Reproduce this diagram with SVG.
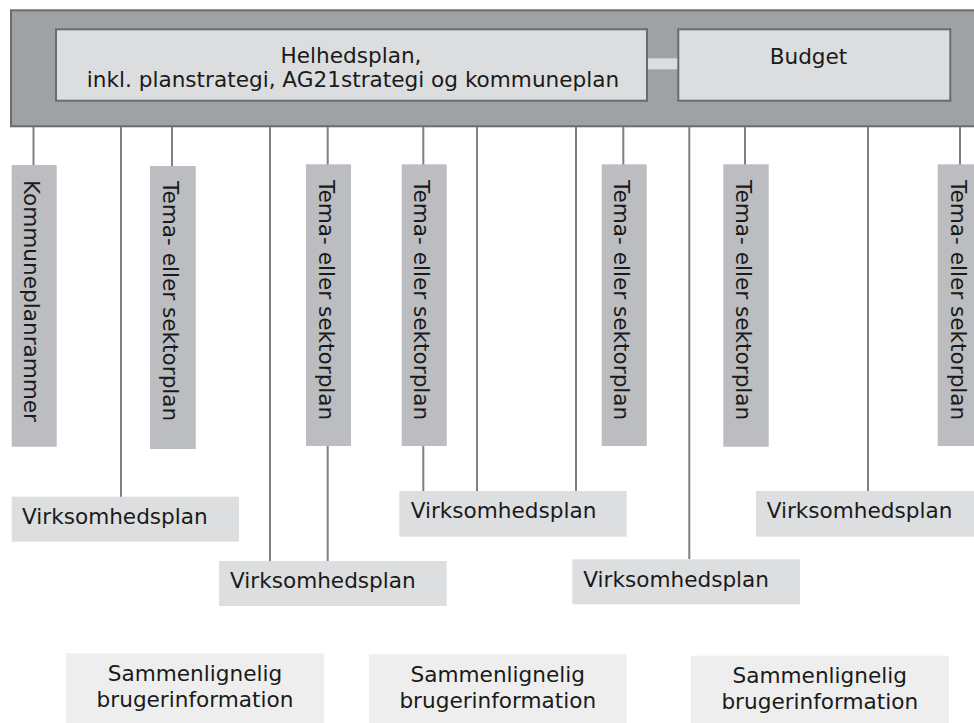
<svg xmlns="http://www.w3.org/2000/svg" width="974" height="723" viewBox="0 0 974 723">
<style>
text{font-family:"DejaVu Sans","Verdana",sans-serif;font-size:21.6px;fill:#1a1a1a}
.bar{fill:#a0a1a5;stroke:#6a6b6e;stroke-width:2}
.top{fill:#dcdddf;stroke:#6a6b6e;stroke-width:2}
.tema{fill:#bcbdc0}
.vp{fill:#dddee0}
.sam{fill:#eeeeee}
.ln{stroke:#808080;stroke-width:2;fill:none}
.mid{text-anchor:middle}
</style>
<rect width="974" height="723" fill="#ffffff"/>
<g id="header">
<rect class="bar" x="11" y="10.3" width="1000" height="116"/>
</g>
<g id="connectors">
<rect x="647" y="58.3" width="31" height="11" fill="#dcdddf"/>
<path class="ln" d="M33.5,127V165 M121,127V497 M172,127V166 M270,127V561 M327.7,127V165 M327.7,446V561 M423.3,127V165 M423.3,446V491 M477,127V491 M576,127V491 M623.3,127V165 M689.3,127V559.3 M745,127V165 M868,127V491 M960,127V165"/>
</g>
<g id="helhedsplan">
<rect class="top" x="56" y="29.3" width="591" height="71.4"/>
<text class="mid" x="351" y="63">Helhedsplan,</text>
<text class="mid" x="353" y="87">inkl. planstrategi, AG21strategi og kommuneplan</text>
</g>
<g id="budget">
<rect class="top" x="678.3" y="29.3" width="272" height="71.4"/>
<text class="mid" x="808.5" y="64">Budget</text>
</g>
<g id="kommuneplanrammer">
<rect class="tema" x="11.7" y="165" width="45" height="281.7"/>
<text transform="translate(24,180) rotate(90)">Kommuneplanrammer</text>
</g>
<g id="tema1">
<rect class="tema" x="150" y="166" width="45.7" height="283"/>
<text transform="translate(163,181) rotate(90)">Tema- eller sektorplan</text>
</g>
<g id="tema2">
<rect class="tema" x="306" y="164.3" width="45" height="281.7"/>
<text transform="translate(318.5,180) rotate(90)">Tema- eller sektorplan</text>
</g>
<g id="tema3">
<rect class="tema" x="401.7" y="164.3" width="45" height="281.7"/>
<text transform="translate(414.2,180) rotate(90)">Tema- eller sektorplan</text>
</g>
<g id="tema4">
<rect class="tema" x="601.7" y="164.3" width="45" height="281.7"/>
<text transform="translate(614.2,180) rotate(90)">Tema- eller sektorplan</text>
</g>
<g id="tema5">
<rect class="tema" x="723.3" y="164.3" width="45.4" height="282.4"/>
<text transform="translate(736,180) rotate(90)">Tema- eller sektorplan</text>
</g>
<g id="tema6">
<rect class="tema" x="937.7" y="164.3" width="45" height="281.7"/>
<text transform="translate(950.5,180) rotate(90)">Tema- eller sektorplan</text>
</g>
<g id="virksomhedsplan1">
<rect class="vp" x="11.7" y="496.7" width="227.3" height="45"/>
<text x="22" y="524">Virksomhedsplan</text>
</g>
<g id="virksomhedsplan2">
<rect class="vp" x="219" y="561" width="227.7" height="45"/>
<text x="230" y="588.3">Virksomhedsplan</text>
</g>
<g id="virksomhedsplan3">
<rect class="vp" x="399.3" y="491" width="227.4" height="45.7"/>
<text x="410.7" y="518.3">Virksomhedsplan</text>
</g>
<g id="virksomhedsplan4">
<rect class="vp" x="572.3" y="559.3" width="227.7" height="45"/>
<text x="583.3" y="586.6">Virksomhedsplan</text>
</g>
<g id="virksomhedsplan5">
<rect class="vp" x="756" y="491" width="230" height="45.7"/>
<text x="766.7" y="518.3">Virksomhedsplan</text>
</g>
<g id="brugerinfo1">
<rect class="sam" x="66" y="653.3" width="258" height="80"/>
<text class="mid" x="195" y="680.7">Sammenlignelig</text>
<text class="mid" x="195" y="706.7">brugerinformation</text>
</g>
<g id="brugerinfo2">
<rect class="sam" x="369" y="654.3" width="257.7" height="80"/>
<text class="mid" x="497.8" y="681.7">Sammenlignelig</text>
<text class="mid" x="497.8" y="707.7">brugerinformation</text>
</g>
<g id="brugerinfo3">
<rect class="sam" x="690.7" y="655.7" width="258.3" height="80"/>
<text class="mid" x="819.8" y="683.3">Sammenlignelig</text>
<text class="mid" x="819.8" y="709.3">brugerinformation</text>
</g>
</svg>
